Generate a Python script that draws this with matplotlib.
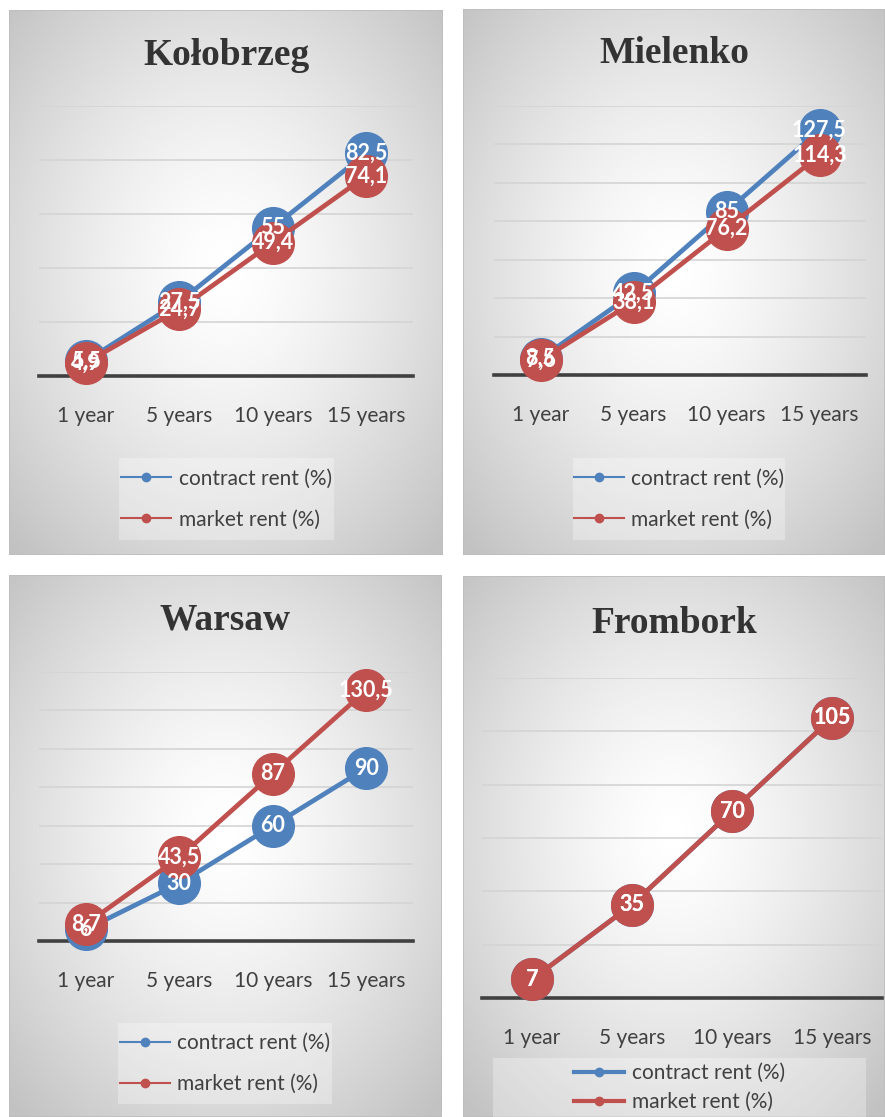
import numpy as np
import matplotlib
matplotlib.use("Agg")
import matplotlib.pyplot as plt
from matplotlib.lines import Line2D
from matplotlib.patches import Rectangle

# data
periods = ["1 year", "5 years", "10 years", "15 years"]
cities = ["Kołobrzeg", "Mielenko", "Warsaw", "Frombork"]
contract_kolobrzeg = [5.5, 27.5, 55, 82.5]
market_kolobrzeg = [4.9, 24.7, 49.4, 74.1]
contract_mielenko = [8.5, 42.5, 85, 127.5]
market_mielenko = [7.6, 38.1, 76.2, 114.3]
contract_warsaw = [6, 30, 60, 90]
market_warsaw = [8.7, 43.5, 87, 130.5]
contract_frombork = [7, 35, 70, 105]
market_frombork = [7, 35, 70, 105]
y_max = [100, 140, 140, 120]

BLUE = "#4F81BD"
RED = "#C0504D"
W, H = 885, 1117
fig = plt.figure(figsize=(W / 100, H / 100), dpi=100)
fig.patch.set_facecolor("white")


def rect(x0, y0, x1, y1):
    # pixel box (top-left origin) -> figure fraction
    return [x0 / W, 1 - y1 / H, (x1 - x0) / W, (y1 - y0) / H]


# layout per panel: panel box, plot box, title baseline, legend box, legend row spacing
layout = [
    dict(panel=(9, 10, 443, 555), plot=(39, 106, 413, 376), title=65,
         leg=(119, 458, 334, 540), lsp=1.0, llw=1.5),
    dict(panel=(463, 9, 885, 555), plot=(494, 106, 866, 375), title=63,
         leg=(573, 458, 785, 540), lsp=1.0, llw=1.5),
    dict(panel=(9, 575, 442, 1117), plot=(39, 672, 413, 941), title=630,
         leg=(118, 1023, 332, 1104), lsp=1.0, llw=1.5),
    dict(panel=(463, 576, 885, 1117), plot=(482, 678, 882, 998), title=633,
         leg=(493, 1058, 866, 1117), lsp=0.45, llw=3),
]
series = [
    (contract_kolobrzeg, market_kolobrzeg),
    (contract_mielenko, market_mielenko),
    (contract_warsaw, market_warsaw),
    (contract_frombork, market_frombork),
]

# radial grey background
gx, gy = np.meshgrid(np.linspace(-1, 1, 200), np.linspace(-1, 1, 250))
r = np.clip(np.sqrt(gx ** 2 + (gy + 0.05) ** 2) / np.sqrt(2), 0, 1)
grad = 1 - 0.24 * r ** 1.4

x = np.arange(len(periods))
for city, lay, (contract, market), ym in zip(cities, layout, series, y_max):
    bg = fig.add_axes(rect(*lay["panel"]), zorder=0)
    bg.imshow(grad, extent=[0, 1, 0, 1], aspect="auto", cmap="gray",
              vmin=0, vmax=1, interpolation="bicubic")
    bg.set_xlim(0, 1)
    bg.set_ylim(0, 1)
    bg.axis("off")
    bg.add_patch(Rectangle((0, 0), 1, 1, transform=bg.transAxes, fill=False,
                           edgecolor="#bdbdbd", lw=1.2))

    px0, py0, px1, py1 = lay["panel"]
    fig.text(((px0 + px1) / 2) / W, 1 - lay["title"] / H, city,
             ha="center", va="baseline", fontsize=27, fontweight="bold",
             family="Liberation Serif", color="#333333", zorder=5)

    ax = fig.add_axes(rect(*lay["plot"]), zorder=2)
    ax.set_facecolor("none")
    ax.set_xlim(-0.5, len(periods) - 0.5)
    ax.set_ylim(0, ym)
    ax.set_yticks(np.arange(20, ym + 1, 20))
    ax.yaxis.grid(True, color="#d4d4d4", lw=1.2)
    ax.set_axisbelow(True)
    ax.tick_params(left=False, labelleft=False, bottom=False, labelbottom=False)
    for s in ["left", "right", "top"]:
        ax.spines[s].set_visible(False)
    ax.spines["bottom"].set_color("#404040")
    ax.spines["bottom"].set_linewidth(2.6)

    ax.plot(x, contract, color=BLUE, lw=3.4, marker="o", markersize=30,
            clip_on=False, zorder=3)
    ax.plot(x, market, color=RED, lw=3.4, marker="o", markersize=30,
            clip_on=False, zorder=4)
    for vals in (contract, market):
        for xi, v in zip(x, vals):
            lbl = ("%g" % v).replace(".", ",")
            ax.text(xi, v, lbl, ha="center", va="center", color="white",
                    fontsize=15.5, fontweight="bold", family="Lato", zorder=6,
                    clip_on=False)

    for xi, p in zip(x, periods):
        ax.annotate(p, (xi, 0), xycoords=("data", "axes fraction"),
                    xytext=(0, -40 * 0.72), textcoords="offset points",
                    ha="center", va="center", fontsize=15, family="Lato",
                    color="#404040")

    lx0, ly0, lx1, ly1 = lay["leg"]
    fig.patches.append(Rectangle((lx0 / W, 1 - ly1 / H), (lx1 - lx0) / W,
                                 (ly1 - ly0) / H, transform=fig.transFigure,
                                 facecolor="white", alpha=0.3, lw=0, zorder=3))
    handles = [
        Line2D([], [], color=BLUE, lw=lay["llw"], marker="o", markersize=6),
        Line2D([], [], color=RED, lw=lay["llw"], marker="o", markersize=6),
    ]
    fig.legend(handles, ["contract rent (%)", "market rent (%)"],
               loc="center", bbox_to_anchor=((lx0 + lx1) / 2 / W,
                                             1 - (ly0 + ly1) / 2 / H),
               frameon=False, prop=dict(family="Lato", size=15),
               handlelength=2.4, handletextpad=0.35,
               labelspacing=lay["lsp"], labelcolor="#404040")

fig.savefig("out.png", dpi=100)
